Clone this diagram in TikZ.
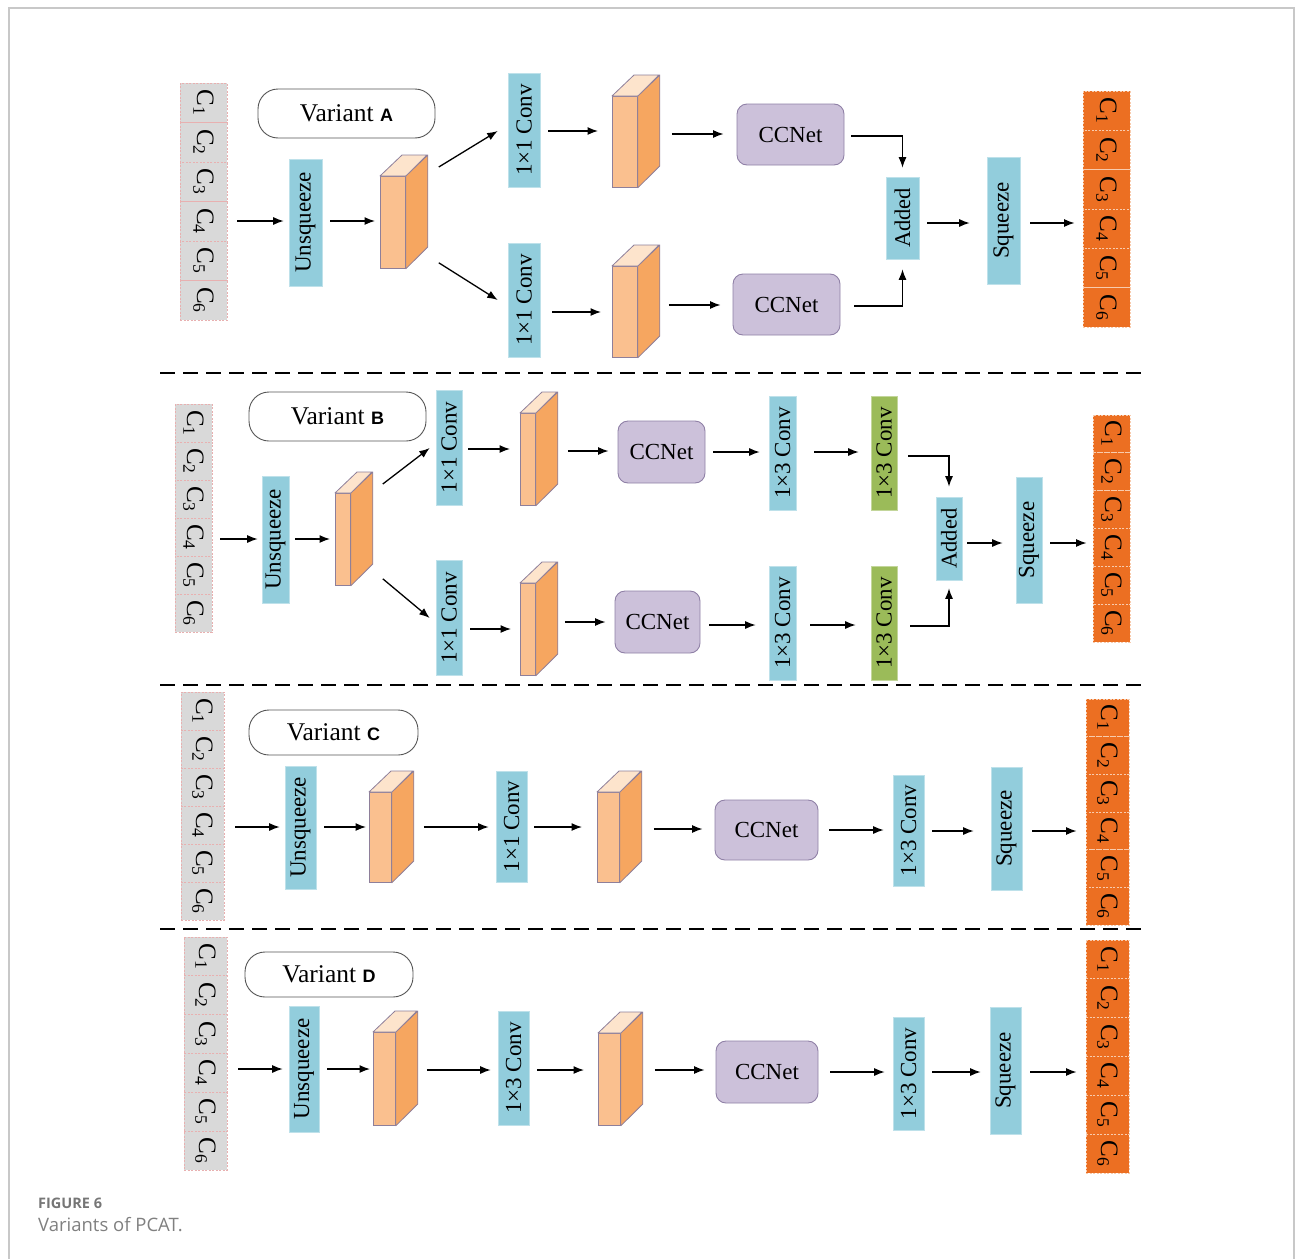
\documentclass[tikz,border=0pt]{standalone}
\usepackage{fontspec}
\setmainfont{Liberation Serif}
\setsansfont{Liberation Sans}
\newfontfamily\capfont{Open Sans}
\usetikzlibrary{arrows.meta,calc}
\definecolor{boxblue}{HTML}{92CDDC}
\definecolor{boxgreen}{HTML}{9BBB59}
\definecolor{ccfill}{HTML}{CCC1DA}
\definecolor{ccedge}{HTML}{8F80A6}
\definecolor{labedge}{HTML}{555555}
\definecolor{cellgray}{HTML}{D9D9D9}
\definecolor{cellpink}{HTML}{E8B0B0}
\definecolor{cellorange}{HTML}{EC6F22}
\definecolor{outedge}{HTML}{F8CBAD}
\definecolor{cubefront}{HTML}{FAC08F}
\definecolor{cubeside}{HTML}{F6A660}
\definecolor{cubetop}{HTML}{FDE4CC}
\definecolor{cubeedge}{HTML}{8E7F9A}
\definecolor{framegray}{HTML}{C8C8C8}
\definecolor{capgray}{HTML}{767676}
\definecolor{capgrayb}{HTML}{808080}
\newcommand\boxfont{\fontsize{23}{26}\selectfont}
\newcommand\varfont{\fontsize{25.5}{28}\selectfont}
\newcommand\cellfont{\fontsize{25}{27}\selectfont}
\newcommand\labfont{\sffamily\bfseries\fontsize{18}{20}\selectfont}
\tikzset{
  bbox/.style={fill=boxblue, draw=boxblue!60!white, line width=0.6pt, inner sep=0pt, font=\boxfont},
  gbox/.style={bbox, fill=boxgreen, draw=boxgreen!60!white},
  ccbox/.style={fill=ccfill, draw=ccedge, rounded corners=10pt, line width=0.9pt, inner sep=0pt, font=\boxfont},
  labbox/.style={fill=white, draw=labedge, rounded corners=20pt, line width=0.9pt, inner sep=0pt, font=\varfont},
  incell/.style={fill=cellgray, draw=cellpink, dash pattern=on 2pt off 1.5pt, line width=0.9pt, inner sep=0pt, font=\cellfont},
  outcell/.style={incell, fill=cellorange, draw=outedge},
  cubefrontst/.style={fill=cubefront, draw=cubeedge, line width=0.8pt, inner sep=0pt},
  cubesidest/.style={fill=cubeside, draw=cubeedge, line width=0.8pt, line join=round},
  cubetopst/.style={fill=cubetop, draw=cubeedge, line width=0.8pt, line join=round},
  arr/.style={-{Latex[length=10.5pt,width=8pt]}, line width=1.3pt},
  sepline/.style={dash pattern=on 15pt off 8pt, line width=1.5pt},
}
% name, left x, top y, bottom y, front width
\newcommand\mycube[5]{%
  \node[cubefrontst, minimum width=#5, minimum height={#4-#3}, anchor=north west] (#1) at (#2,#3) {};
  \draw[cubesidest] (#1.north east) -- ++(22,-21) -- ++(0,{#4-#3}) -- (#1.south east) -- cycle;
  \draw[cubetopst] (#1.north west) -- ++(22,-21) -- ++(#5,0) -- (#1.north east) -- cycle;
}
% from, to, y, start gap, end gap
\newcommand\harr[5]{\draw[arr, shorten <=#4pt, shorten >=#5pt] (#1.east |- 0,#3) -- (#2.west |- 0,#3);}
\newcommand\clab[1]{\rotatebox{-90}{C\textsubscript{#1}}}
\begin{document}
\begin{tikzpicture}[x=1pt,y=-1pt]
\useasboundingbox (0,0) rectangle (1295,1258);
% frame
\draw[framegray, line width=2pt] (9,1260) -- (9,8) -- (1294,8) -- (1294,1260);
% separators
\draw[sepline] (160,373) -- (1143,373);
\draw[sepline] (160,685) -- (1143,685);
\draw[sepline] (160,929) -- (1143,929);

%%%%%%%%%%%%%%%% Variant A
\foreach \i in {1,...,6} {
  \node[incell, minimum width=47, minimum height=39.5] (inA\i) at (203.5,{83+39.5*(\i-0.5)}) {\clab{\i}};
  \node[outcell, minimum width=47, minimum height=39.33] (outA\i) at (1106.5,{91+39.33*(\i-0.5)}) {\clab{\i}};
}
\node[labbox, minimum width=177, minimum height=49] (labA) at (346.5,113.5) {Variant {\labfont A}};
\node[bbox, minimum width=33, minimum height=127] (unsqA) at (305.5,222.5) {\rotatebox{90}{Unsqueeze}};
\mycube{cubA0}{380}{176}{268}{25}
\node[bbox, minimum width=32, minimum height=114] (convA1) at (524,130) {\rotatebox{90}{1×1 Conv}};
\node[bbox, minimum width=32, minimum height=114] (convA2) at (524,300) {\rotatebox{90}{1×1 Conv}};
\mycube{cubA1}{612}{96}{187}{25}
\mycube{cubA2}{612}{266}{357}{25}
\node[ccbox, minimum width=107, minimum height=61] (ccA1) at (790.5,134.5) {CCNet};
\node[ccbox, minimum width=107, minimum height=61] (ccA2) at (786.5,304.5) {CCNet};
\node[bbox, minimum width=33, minimum height=82, font=\fontsize{22.5}{25}\selectfont] (addA) at (902.5,218) {\rotatebox{90}{Added}};
\node[bbox, minimum width=33, minimum height=127] (sqA) at (1003.5,220.5) {\rotatebox{90}{Squeeze}};
\harr{inA4}{unsqA}{221}{10}{5}
\harr{unsqA}{cubA0}{221}{8}{5}
\draw[arr] ($(cubA0.north east)+(33,-9)$) -- ($(convA1.west)+(-10,1)$);
\draw[arr] ($(cubA0.south east)+(33,-6)$) -- ($(convA2.west)+(-10,0)$);
\harr{convA1}{cubA1}{131}{8}{14}
\harr{convA2}{cubA2}{312}{12}{11}
\harr{cubA1}{ccA1}{134}{34}{13}
\harr{cubA2}{ccA2}{305}{31}{12}
\draw[arr, shorten >=9pt] ($(ccA1.east)+(7,1.5)$) -| (addA.north);
\draw[arr, shorten >=10pt] ($(ccA2.east)+(14,1.5)$) -| (addA.south);
\harr{addA}{sqA}{223}{8}{17}
\harr{sqA}{outA4}{223}{10}{8}

%%%%%%%%%%%%%%%% Variant B
\foreach \i in {1,...,6} {
  \node[incell, minimum width=37, minimum height=38] (inB\i) at (193.5,{404+38*(\i-0.5)}) {\clab{\i}};
  \node[outcell, minimum width=37, minimum height=37.83] (outB\i) at (1111.5,{415+37.83*(\i-0.5)}) {\clab{\i}};
}
\node[labbox, minimum width=177, minimum height=49] (labB) at (337.5,416.5) {Variant {\labfont B}};
\node[bbox, minimum width=27, minimum height=127] (unsqB) at (275.5,539.5) {\rotatebox{90}{Unsqueeze}};
\mycube{cubB0}{335}{493}{585}{15}
\node[bbox, minimum width=26, minimum height=115] (convB1) at (449,447.5) {\rotatebox{90}{1×1 Conv}};
\node[bbox, minimum width=26, minimum height=115] (convB2) at (449,618) {\rotatebox{90}{1×1 Conv}};
\mycube{cubB1}{520}{413}{505}{15}
\mycube{cubB2}{520}{583}{675}{15}
\node[ccbox, minimum width=87, minimum height=62] (ccB1) at (661.5,452) {CCNet};
\node[ccbox, minimum width=85, minimum height=62] (ccB2) at (657.5,622) {CCNet};
\node[bbox, minimum width=27, minimum height=114] (c3B1) at (782.5,453) {\rotatebox{90}{1×3 Conv}};
\node[bbox, minimum width=27, minimum height=114] (c3B2) at (782.5,623) {\rotatebox{90}{1×3 Conv}};
\node[gbox, minimum width=26, minimum height=114] (g3B1) at (884,453) {\rotatebox{90}{1×3 Conv}};
\node[gbox, minimum width=26, minimum height=114] (g3B2) at (884,623) {\rotatebox{90}{1×3 Conv}};
\node[bbox, minimum width=26, minimum height=83, font=\fontsize{22.5}{25}\selectfont] (addB) at (949,538.5) {\rotatebox{90}{Added}};
\node[bbox, minimum width=26, minimum height=126] (sqB) at (1029,540) {\rotatebox{90}{Squeeze}};
\harr{inB4}{unsqB}{539}{8}{4}
\harr{unsqB}{cubB0}{539}{6}{5}
\draw[arr] ($(cubB0.north east)+(32,-9)$) -- ($(convB1.west)+(-6,0.5)$);
\draw[arr] ($(cubB0.south east)+(32,-7)$) -- ($(convB2.west)+(-6,0)$);
\harr{convB1}{cubB1}{449}{6}{10}
\harr{convB2}{cubB2}{629}{8}{9}
\harr{cubB1}{ccB1}{451}{32}{9}
\harr{cubB2}{ccB2}{622}{29}{9}
\harr{ccB1}{c3B1}{452}{8}{9}
\harr{ccB2}{c3B2}{625}{9}{13}
\harr{c3B1}{g3B1}{452}{18}{12}
\harr{c3B2}{g3B2}{625}{14}{15}
\draw[arr, shorten >=10pt] ($(g3B1.east)+(11,3)$) -| (addB.north);
\draw[arr, shorten >=8pt] ($(g3B2.east)+(13,3)$) -| (addB.south);
\harr{addB}{sqB}{543}{5}{13}
\harr{sqB}{outB4}{543}{8}{6}

%%%%%%%%%%%%%%%% Variant C
\foreach \i in {1,...,6} {
  \node[incell, minimum width=43, minimum height=38] (inC\i) at (202.5,{692+38*(\i-0.5)}) {\clab{\i}};
  \node[outcell, minimum width=43, minimum height=37.67] (outC\i) at (1107.5,{699+37.67*(\i-0.5)}) {\clab{\i}};
}
\node[labbox, minimum width=169, minimum height=45] (labC) at (333.5,732.5) {Variant {\labfont C}};
\node[bbox, minimum width=31, minimum height=123] (unsqC) at (300.5,827.5) {\rotatebox{90}{Unsqueeze}};
\mycube{cubC0}{369}{792}{882}{22}
\node[bbox, minimum width=31, minimum height=111] (convC) at (511.5,826.5) {\rotatebox{90}{1×1 Conv}};
\mycube{cubC1}{597}{792}{882}{22}
\node[ccbox, minimum width=103, minimum height=60] (ccC) at (766.5,830) {CCNet};
\node[bbox, minimum width=31, minimum height=111] (c3C) at (908.5,830.5) {\rotatebox{90}{1×3 Conv}};
\node[bbox, minimum width=31, minimum height=123] (sqC) at (1006.5,828.5) {\rotatebox{90}{Squeeze}};
\harr{inC4}{unsqC}{827}{11}{5}
\harr{unsqC}{cubC0}{827}{8}{3}
\harr{cubC0}{convC}{827}{32}{7}
\harr{convC}{cubC1}{827}{7}{15}
\harr{cubC1}{ccC}{829}{34}{12}
\harr{ccC}{c3C}{830}{11}{9}
\harr{c3C}{sqC}{831}{8}{17}
\harr{sqC}{outC4}{831}{10}{9}

%%%%%%%%%%%%%%%% Variant D
\foreach \i in {1,...,6} {
  \node[incell, minimum width=43, minimum height=38.83] (inD\i) at (205.5,{937+38.83*(\i-0.5)}) {\clab{\i}};
  \node[outcell, minimum width=43, minimum height=38.83] (outD\i) at (1107.5,{940+38.83*(\i-0.5)}) {\clab{\i}};
}
\node[labbox, minimum width=168, minimum height=45] (labD) at (329,974.5) {Variant {\labfont D}};
\node[bbox, minimum width=30, minimum height=126] (unsqD) at (304,1069) {\rotatebox{90}{Unsqueeze}};
\mycube{cubD0}{373}{1032}{1125}{22}
\node[bbox, minimum width=31, minimum height=114] (c3D1) at (513.5,1068) {\rotatebox{90}{1×3 Conv}};
\mycube{cubD1}{598}{1033}{1125}{22}
\node[ccbox, minimum width=102, minimum height=62] (ccD) at (767,1072) {CCNet};
\node[bbox, minimum width=31, minimum height=113] (c3D2) at (908.5,1073.5) {\rotatebox{90}{1×3 Conv}};
\node[bbox, minimum width=31, minimum height=127] (sqD) at (1005.5,1070.5) {\rotatebox{90}{Squeeze}};
\harr{inD4}{unsqD}{1069}{11}{6}
\harr{unsqD}{cubD0}{1069}{8}{3}
\harr{cubD0}{c3D1}{1070}{31}{7}
\harr{c3D1}{cubD1}{1070}{8}{14}
\harr{cubD1}{ccD}{1070}{34}{11}
\harr{ccD}{c3D2}{1072}{12}{8}
\harr{c3D2}{sqD}{1072}{8}{9}
\harr{sqD}{outD4}{1072}{9}{9}

%%%%%%%%%%%%%%%% caption
\node[anchor=base west, inner sep=0pt, text=capgray, font=\capfont\bfseries\fontsize{14.5}{16}\selectfont] (capA) at (38,1208) {FIGURE 6};
\node[anchor=base west, inner sep=0pt, text=capgrayb, font=\capfont\fontsize{18.5}{20}\selectfont] (capB) at (38,1231) {Variants of PCAT.};
\end{tikzpicture}
\end{document}
